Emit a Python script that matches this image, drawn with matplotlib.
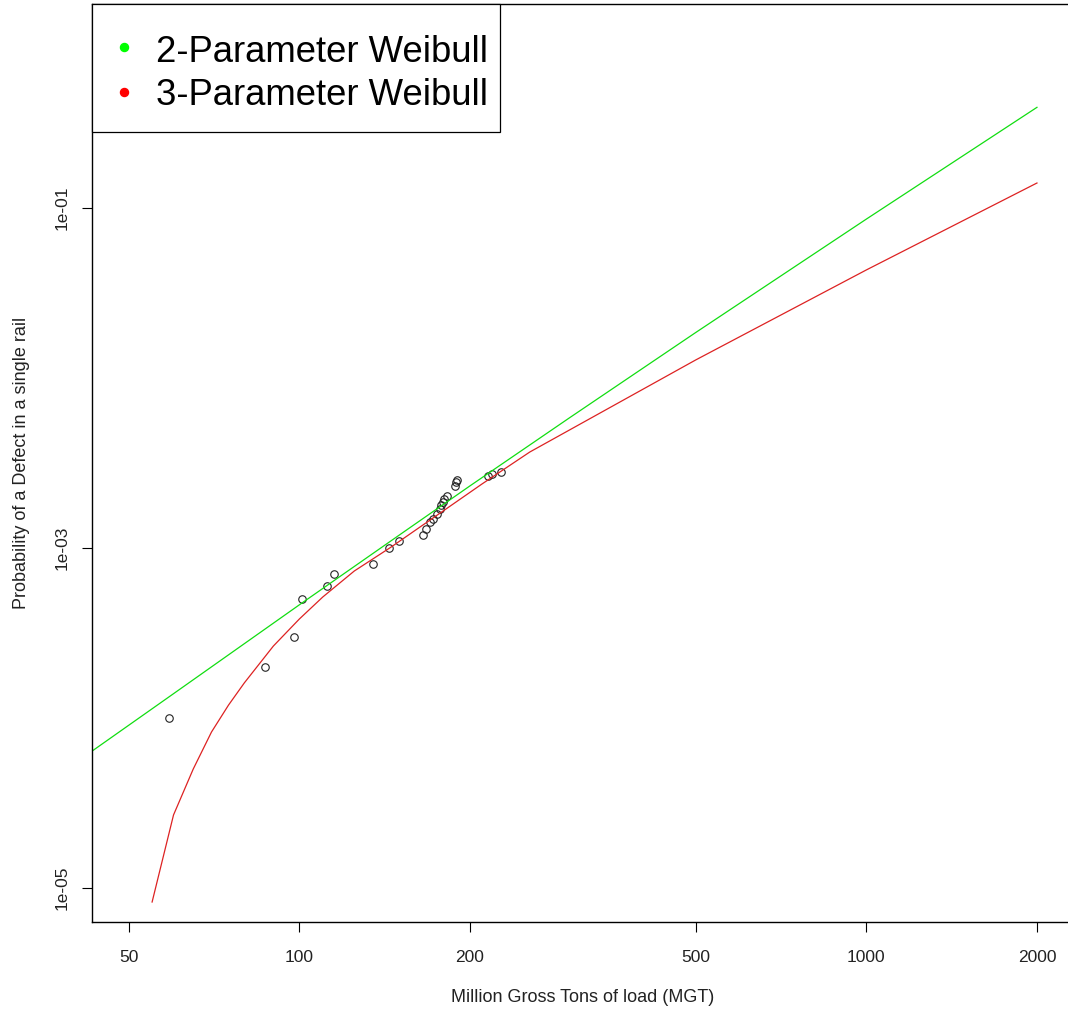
import numpy as np
import matplotlib
matplotlib.use('Agg')
import matplotlib.pyplot as plt
from matplotlib.patches import Rectangle
from matplotlib.ticker import FixedLocator, NullLocator, FixedFormatter

plt.rcParams['font.family'] = ['Liberation Sans', 'DejaVu Sans']

# observed rail defects: load (MGT) vs. estimated probability
mgt_obs = [59, 87, 98, 101, 112, 115, 135, 144, 150, 165, 167, 170, 172, 175,
           177, 178, 179, 180, 182, 188, 189, 190, 215, 219, 227]
prob_obs = [1.0e-4, 2.0e-4, 3.0e-4, 5.0e-4, 6.0e-4, 7.0e-4, 8.0e-4, 1.0e-3,
            1.1e-3, 1.2e-3, 1.3e-3, 1.42e-3, 1.48e-3, 1.58e-3, 1.7e-3, 1.79e-3,
            1.87e-3, 1.94e-3, 2.03e-3, 2.33e-3, 2.44e-3, 2.52e-3, 2.64e-3,
            2.71e-3, 2.81e-3]

# fitted 2-parameter Weibull
mgt_w2 = [40, 60, 100, 150, 200, 300, 500, 1000, 2000]
prob_w2 = [5.36e-5, 1.39e-4, 4.63e-4, 1.19e-3, 2.32e-3, 5.85e-3, 0.0185, 0.0860, 0.391]

# fitted 3-parameter Weibull
mgt_w3 = [55, 60, 65, 70, 75, 80, 90, 100, 110, 125, 145, 175, 210, 255, 500, 1000, 2000]
prob_w3 = [8.27e-6, 2.69e-5, 5.01e-5, 8.27e-5, 1.19e-4, 1.61e-4, 2.65e-4, 3.82e-4,
           5.15e-4, 7.32e-4, 1.01e-3, 1.56e-3, 2.38e-3, 3.67e-3, 0.01276, 0.0432, 0.1403]

legend_labels = ['2-Parameter Weibull', '3-Parameter Weibull']
legend_colors = ['#00ff00', '#ff0000']

xticks = [50, 100, 200, 500, 1000, 2000]
yticks = [1e-5, 1e-3, 1e-1]
ytick_labels = ['1e-05', '1e-03', '1e-01']

W, H = 1068, 1015
fig = plt.figure(figsize=(W / 100, H / 100), dpi=100)
# plot region in device pixels: left 92.3, top 4, 918 high; the R plot
# region is 981 px wide and ends past the right edge of the device
AX_L, AX_T, AX_W, AX_H = 92.3, 4, 981, 918
AX_W_DRAWN = 1100 - AX_L
ax = fig.add_axes([AX_L / W, (H - AX_T - AX_H) / H, AX_W_DRAWN / W, AX_H / H])


def px2ax(px, py):
    """device pixel (from top-left) -> axes fraction"""
    return (px - AX_L) / AX_W_DRAWN, (AX_T + AX_H - py) / AX_H


ax.plot(mgt_obs, prob_obs, linestyle='none', marker='o', markersize=5.4,
        markerfacecolor='none', markeredgecolor='#222222', markeredgewidth=0.8)
ax.plot(mgt_w2, prob_w2, color='#11dd11', lw=0.9)
ax.plot(mgt_w3, prob_w3, color='#dd2222', lw=0.9)

ax.set_xscale('log')
ax.set_yscale('log')
# R-style 4% padding around the (50, 2000) x (1e-5, 1) ranges
lx = np.log10([50, 2000])
ly = np.log10([1e-5, 1])
dx = 0.04 * (lx[1] - lx[0])
dy = 0.04 * (ly[1] - ly[0])
x_lo = lx[0] - dx
x_hi = x_lo + (lx[1] + dx - x_lo) * AX_W_DRAWN / AX_W
ax.set_xlim(10 ** x_lo, 10 ** x_hi)
ax.set_ylim(10 ** (ly[0] - dy), 10 ** (ly[1] + dy))

ax.xaxis.set_major_locator(FixedLocator(xticks))
ax.xaxis.set_major_formatter(FixedFormatter([str(v) for v in xticks]))
ax.xaxis.set_minor_locator(NullLocator())
ax.yaxis.set_major_locator(FixedLocator(yticks))
ax.yaxis.set_major_formatter(FixedFormatter(ytick_labels))
ax.yaxis.set_minor_locator(NullLocator())

ax.tick_params(axis='both', direction='out', length=7.2, width=0.8,
               labelsize=12.5, colors='black', labelcolor='#222222')
ax.tick_params(axis='x', pad=13)
ax.tick_params(axis='y', pad=9)
for lab in ax.get_yticklabels():
    lab.set_rotation(90)
    lab.set_va('center')
    lab.set_ha('right')

for sp in ax.spines.values():
    sp.set_linewidth(1.0)
    sp.set_color('black')
ax.spines['right'].set_visible(False)

ax.set_xlabel('Million Gross Tons of load (MGT)', fontsize=13, color='#222222')
ax.set_ylabel('Probability of a Defect in a single rail', fontsize=13, color='#222222')
# centre the axis titles on the full R plot region
ax.xaxis.set_label_coords(0.5 * AX_W / AX_W_DRAWN, -76 / AX_H)
ax.xaxis.label.set_va('center')
ax.yaxis.set_label_coords(-71 / AX_W_DRAWN, 0.5)
ax.yaxis.label.set_va('center')

# legend box in the top-left corner, R legend() style
x0, y0 = px2ax(AX_L, 132)
x1, y1 = px2ax(500, AX_T)
ax.add_patch(Rectangle((x0, y0), x1 - x0, y1 - y0, transform=ax.transAxes,
                       facecolor='white', edgecolor='black', lw=0.9,
                       zorder=5, clip_on=False))
for i, (lab, col) in enumerate(zip(legend_labels, legend_colors)):
    mx, my = px2ax(124, 47 + 44.5 * i)
    ax.plot([mx], [my], transform=ax.transAxes, linestyle='none', marker='o',
            markersize=5.8, color=col, zorder=6, clip_on=False)
    tx, ty = px2ax(156, 62.5 + 42.5 * i)
    ax.text(tx, ty, lab, transform=ax.transAxes, fontsize=26.3,
            ha='left', va='baseline', color='black', zorder=6)

fig.savefig('out.png', dpi=100)
